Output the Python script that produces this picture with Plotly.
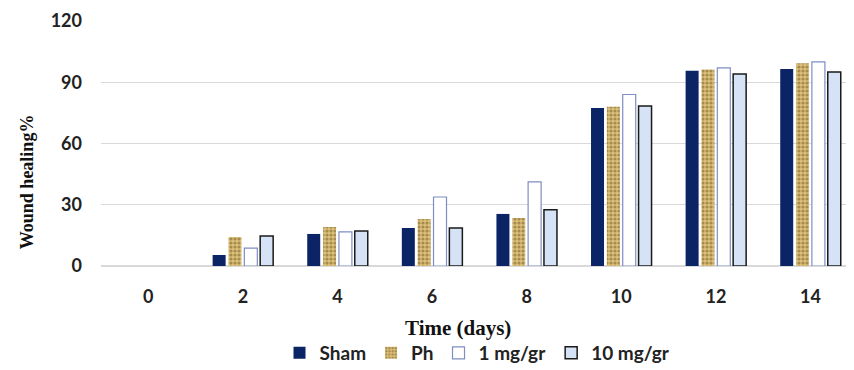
import plotly.graph_objects as go

days = ["0", "2", "4", "6", "8", "10", "12", "14"]
sham = [None, 5.4, 15.7, 18.6, 25.5, 77.4, 95.6, 96.5]
ph = [None, 14.2, 19.1, 23.0, 23.5, 78.0, 96.3, 99.3]
mg1 = [None, 8.8, 16.7, 33.8, 41.2, 84.0, 97.0, 100.0]
mg10 = [None, 14.7, 17.2, 18.6, 27.5, 78.4, 94.0, 95.0]
y_ticks = [0, 30, 60, 90, 120]

fig = go.Figure()
fig.add_trace(go.Bar(name="Sham", x=days, y=sham,
                     marker=dict(color="#0b2466", line=dict(width=0))))
fig.add_trace(go.Bar(name="Ph", x=days, y=ph,
                     marker=dict(color="#dcc07a", line=dict(width=0),
                                 pattern=dict(shape=".", fgcolor="#6e5520", bgcolor="#dcc07a",
                                              size=4, solidity=0.5))))
fig.add_trace(go.Bar(name="1 mg/gr", x=days, y=mg1,
                     marker=dict(color="#ffffff", line=dict(color="#7d8ec4", width=1.2))))
fig.add_trace(go.Bar(name="10 mg/gr", x=days, y=mg10,
                     marker=dict(color="#d6e3f7", line=dict(color="#1a1a1a", width=1.5))))

fig.update_layout(
    width=846, height=362,
    margin=dict(l=93, r=0, t=13, b=104),
    paper_bgcolor="white", plot_bgcolor="white",
    barmode="group", bargap=0.33, bargroupgap=0.18,
    font=dict(family="Lato", color="#222222"),
    xaxis=dict(type="category", range=[-0.5, 7.46], showgrid=False,
               showline=False, zeroline=False, ticks="",
               tickfont=dict(family="Lato", size=18, color="#222222", weight="bold"),
               ticklabelstandoff=18),
    yaxis=dict(range=[0, 120], tickvals=y_ticks, showgrid=True, gridcolor="#d9d9d9",
               gridwidth=1, zeroline=True, zerolinecolor="#d9d9d9", showline=False, ticks="",
               tickfont=dict(family="Lato", size=18, color="#222222", weight="bold"),
               ticklabelstandoff=18),
    legend=dict(orientation="h", xref="paper", yref="container",
                x=0.5, xanchor="center", y=0.047, yanchor="middle",
                font=dict(family="Lato", size=19, color="#222222", weight="bold"),
                itemwidth=30, tracegroupgap=0),
    annotations=[
        dict(text="Time (days)", xref="paper", yref="paper", x=0.474, y=-0.253,
             xanchor="center", yanchor="middle", showarrow=False,
             font=dict(family="Liberation Serif", size=21, color="#111111", weight="bold")),
        dict(text="Wound healing%", xref="paper", yref="paper", x=-0.098, y=0.343,
             xanchor="center", yanchor="middle", showarrow=False, textangle=-90,
             font=dict(family="Liberation Serif", size=18, color="#111111", weight="bold")),
    ],
)

fig.write_html("out.html")
